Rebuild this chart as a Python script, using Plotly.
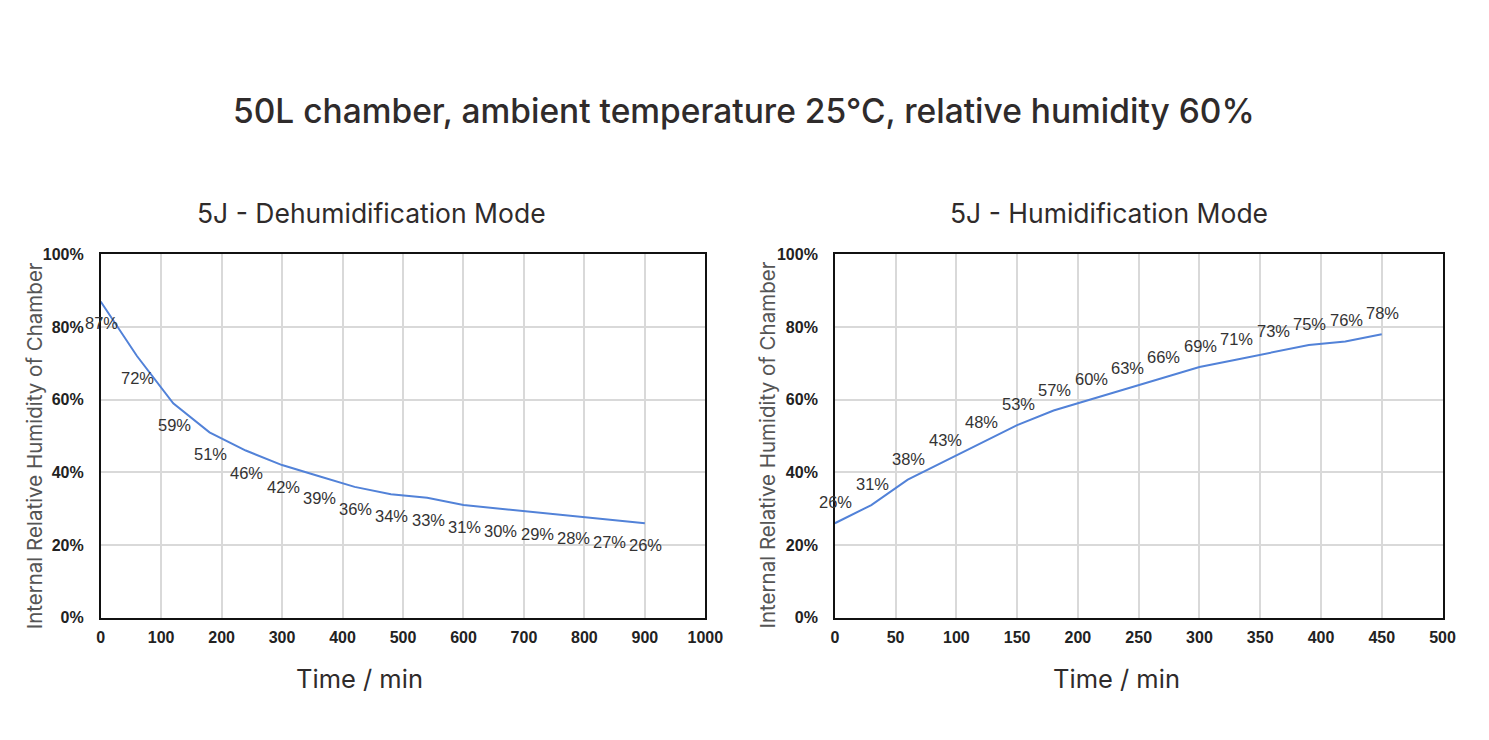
import plotly.graph_objects as go

# dehumidification mode (time in min, RH in %)
dehum_time = [0, 60, 120, 180, 240, 300, 360, 420, 480, 540, 600, 660, 720, 780, 840, 900]
dehum_rh = [87, 72, 59, 51, 46, 42, 39, 36, 34, 33, 31, 30, 29, 28, 27, 26]

# humidification mode
hum_time = [0, 30, 60, 90, 120, 150, 180, 210, 240, 270, 300, 330, 360, 390, 420, 450]
hum_rh = [26, 31, 38, 43, 48, 53, 57, 60, 63, 66, 69, 71, 73, 75, 76, 78]

y_ticks = [0, 20, 40, 60, 80, 100]

W, H = 1489, 740

LINE_COLOR = '#5282d8'
TEXT_DARK = '#2f2b2b'
TITLE_FONT = 'Inter, Noto Sans'
NUM_FONT = 'Liberation Sans, Arial'

# the screenshot comes out a little offset/shrunk, so positions measured on the
# reference picture are converted back to figure pixels here
SX, OX = 0.989, 11.0
SY, OY = 0.981, 13.8


def px(x):
    return ((x - OX) / SX) / W


def py(y):
    return 1 - ((y - OY) / SY) / H


fig = go.Figure()

fig.add_trace(go.Scatter(
    x=dehum_time, y=dehum_rh, mode='lines',
    line=dict(color=LINE_COLOR, width=2),
    xaxis='x', yaxis='y', showlegend=False, hoverinfo='x+y'
))
fig.add_trace(go.Scatter(
    x=hum_time, y=hum_rh, mode='lines',
    line=dict(color=LINE_COLOR, width=2),
    xaxis='x2', yaxis='y2', showlegend=False, hoverinfo='x+y'
))

annotations = []
# data labels - below the points on the left chart
for t, v in zip(dehum_time, dehum_rh):
    annotations.append(dict(
        x=t, y=v, xref='x', yref='y', text=f'{v}%', showarrow=False,
        xanchor='center', yanchor='middle', yshift=-22, xshift=1,
        font=dict(family=NUM_FONT, size=16.5, color='#333333')
    ))
# above the points on the right chart
for t, v in zip(hum_time, hum_rh):
    annotations.append(dict(
        x=t, y=v, xref='x2', yref='y2', text=f'{v}%', showarrow=False,
        xanchor='center', yanchor='middle', yshift=21, xshift=1,
        font=dict(family=NUM_FONT, size=16.5, color='#333333')
    ))


def label(x, y, text, size, color=TEXT_DARK, angle=0, weight=400):
    return dict(x=px(x), y=py(y), xref='paper', yref='paper', showarrow=False,
                xanchor='center', yanchor='middle', text=text, textangle=angle,
                font=dict(family=TITLE_FONT, size=size, color=color, weight=weight))


annotations += [
    label(746, 109, '50L chamber, ambient temperature 25°C, relative humidity 60%', 33.5, weight=500),
    label(372, 212, '5J - Dehumidification Mode', 26.5),
    label(1112, 212, '5J - Humidification Mode', 26.5),
    label(360, 679, 'Time / min', 25.5),
    label(1120, 679, 'Time / min', 25.5),
    label(34, 445, 'Internal Relative Humidity of Chamber', 20.5, color='#555555', angle=-90),
    label(769, 445, 'Internal Relative Humidity of Chamber', 20.5, color='#555555', angle=-90),
]

tick_font = dict(family=NUM_FONT, size=16, color='#222222', weight='bold')
axis_common = dict(
    showgrid=True, gridcolor='#d9d9d9', gridwidth=1.5,
    showline=True, linecolor='#111111', linewidth=1.5, mirror=True,
    zeroline=False, ticks='', tickfont=tick_font, fixedrange=True,
)

y_dom = [py(618), py(253)]

fig.update_layout(
    width=W, height=H,
    paper_bgcolor='white', plot_bgcolor='white',
    margin=dict(l=0, r=0, t=0, b=0),
    xaxis=dict(domain=[px(100), px(707)], range=[0, 1000], dtick=100,
               anchor='y', ticklabelstandoff=4, **axis_common),
    yaxis=dict(domain=y_dom, range=[0, 100], tickvals=y_ticks,
               ticktext=[f'{v}%' for v in y_ticks], anchor='x',
               ticklabelstandoff=12, **axis_common),
    xaxis2=dict(domain=[px(837), px(1447)], range=[0, 500], dtick=50,
                anchor='y2', ticklabelstandoff=4, **axis_common),
    yaxis2=dict(domain=y_dom, range=[0, 100], tickvals=y_ticks,
                ticktext=[f'{v}%' for v in y_ticks], anchor='x2',
                ticklabelstandoff=12, **axis_common),
    annotations=annotations,
)

fig.write_html("out.html")
